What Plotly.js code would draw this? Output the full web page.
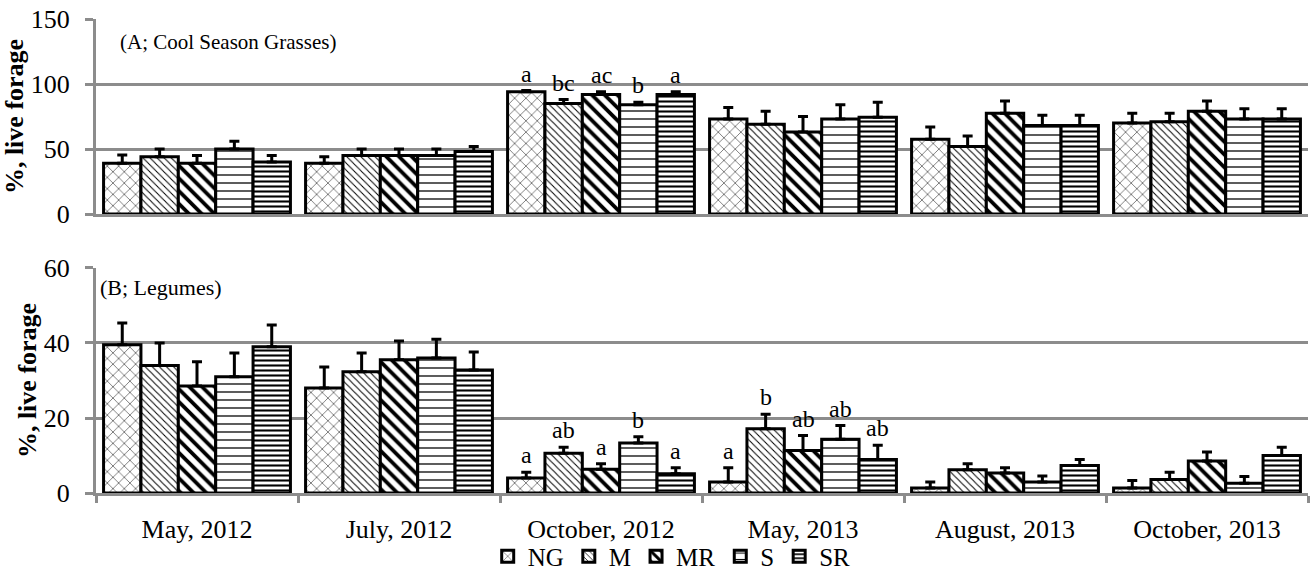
<!DOCTYPE html>
<html>
<head>
<meta charset="utf-8">
<script src="https://cdn.plot.ly/plotly-3.0.1.min.js"></script>
<style>html,body{margin:0;padding:0;background:#fff;overflow:hidden;}#chart{width:1312px;height:590px;}</style>
</head>
<body>
<div id="chart"></div>
<script>
const categories = ['May, 2012','July, 2012','October, 2012','May, 2013','August, 2013','October, 2013'];
const treatments = ['NG','M','MR','S','SR'];

// Panel A: cool season grasses (% of live forage), + SE
const grassNG  = [39, 39, 94, 73, 57.5, 70];
const grassM   = [44, 45, 85, 69, 52, 71];
const grassMR  = [39, 45, 92, 63, 77.5, 79];
const grassS   = [50, 45, 84, 73, 68, 73];
const grassSR  = [40, 48, 92, 74.5, 68, 73];
const grassErrNG = [6.4, 5, 1, 9, 9.5, 7.5];
const grassErrM  = [6, 5, 3, 10, 8, 6.5];
const grassErrMR = [6, 5, 2, 12, 9.5, 8];
const grassErrS  = [6, 5, 2, 11, 8, 8];
const grassErrSR = [5, 4, 2, 11.5, 8, 8];

// Panel B: legumes
const legNG  = [39.5, 28, 4.0, 2.9, 1.3, 1.3];
const legM   = [34, 32.3, 10.6, 17.1, 6.2, 3.6];
const legMR  = [28.5, 35.5, 6.3, 11.3, 5.3, 8.5];
const legS   = [31, 36, 13.3, 14.3, 2.9, 2.6];
const legSR  = [39, 32.8, 5.1, 8.9, 7.3, 10];
const legErrNG = [5.8, 5.6, 1.5, 3.8, 1.6, 2.0];
const legErrM  = [6, 5, 1.6, 3.9, 1.6, 1.9];
const legErrMR = [6.5, 5, 1.5, 4, 1.4, 2.4];
const legErrS  = [6.3, 5, 1.7, 3.7, 1.6, 1.8];
const legErrSR = [5.8, 4.8, 1.6, 3.8, 1.6, 2.2];

// Significance letters: [category index, letters per treatment]
const grassLetters = [[2, ['a','bc','ac','b','a']]];
const legLetters = [[2, ['a','ab','a','b','a']], [3, ['a','b','ab','ab','ab']]];

const panelLabelA = '(A; Cool Season Grasses)';
const panelLabelB = '(B; Legumes)';
const yTitle = '%, live forage';

const grassVals = [grassNG, grassM, grassMR, grassS, grassSR];
const grassErrs = [grassErrNG, grassErrM, grassErrMR, grassErrS, grassErrSR];
const legVals = [legNG, legM, legMR, legS, legSR];
const legErrs = [legErrNG, legErrM, legErrMR, legErrS, legErrSR];

const patterns = [
  {shape:'x', size:8, solidity:0.12},
  {shape:'\\', size:5, solidity:0.2},
  {shape:'\\', size:9, solidity:0.42},
  {shape:'-', size:8, solidity:0.16},
  {shape:'-', size:5, solidity:0.42}
];

const FONT = 'Liberation Serif, Times New Roman, serif';
const BARGAP = 0.075;
const traces = [];
function addPanel(vals, errs, xa, ya, showLeg) {
  treatments.forEach((t, i) => {
    traces.push({
      type:'bar', name:t, x:categories, y:vals[i], xaxis:xa, yaxis:ya,
      legendgroup:t, showlegend:showLeg,
      marker:{color:'#fff', line:{color:'#000', width:3},
        pattern:Object.assign({fgcolor:'#000', bgcolor:'#fff', fillmode:'replace'}, patterns[i])},
      error_y:{type:'data', symmetric:false, array:errs[i], arrayminus:errs[i].map(()=>0),
        color:'#000', thickness:3, width:5},
      hoverinfo:'none'
    });
  });
}
addPanel(grassVals, grassErrs, 'x', 'y', true);
addPanel(legVals, legErrs, 'x2', 'y2', false);

const annotations = [];
const bw = (1 - BARGAP) / treatments.length;
function addLetters(list, vals, errs, xr, yr) {
  list.forEach(([ci, letters]) => {
    letters.forEach((L, i) => {
      annotations.push({
        xref:xr, yref:yr, x: ci - (1 - BARGAP)/2 + (i + 0.5)*bw,
        y: vals[i][ci] + errs[i][ci], yanchor:'bottom', yshift:2,
        text:L, showarrow:false, font:{family:FONT, size:24, color:'#000'}
      });
    });
  });
}
addLetters(grassLetters, grassVals, grassErrs, 'x', 'y');
addLetters(legLetters, legVals, legErrs, 'x2', 'y2');
annotations.push({xref:'paper', yref:'paper', x:0.018, y:0.951, xanchor:'left', yanchor:'middle',
  text:panelLabelA, showarrow:false, font:{family:FONT, size:21, color:'#000'}});
annotations.push({xref:'paper', yref:'paper', x:0.002, y:0.433, xanchor:'left', yanchor:'middle',
  text:panelLabelB, showarrow:false, font:{family:FONT, size:22, color:'#000'}});

const gridGray = '#8c8c8c';
const yCommon = {
  showline:true, linecolor:gridGray, linewidth:3, showgrid:true, gridcolor:gridGray, gridwidth:3,
  zeroline:false, ticks:'outside', ticklen:8, tickcolor:gridGray, tickwidth:3, ticklabelstandoff:10,
  tickfont:{family:FONT, size:26, color:'#000'}, fixedrange:true, automargin:false,
  title:{text:yTitle, font:{family:FONT, size:26, color:'#000', weight:'bold'}, standoff:0}
};
const layout = {
  width:1312, height:590,
  margin:{l:96, r:4, t:19, b:97},
  paper_bgcolor:'#fff', plot_bgcolor:'#fff',
  barmode:'group', bargap:BARGAP, bargroupgap:0,
  font:{family:FONT, color:'#000'},
  xaxis:{anchor:'y', domain:[0,1], showticklabels:false, showline:true, linecolor:gridGray, linewidth:3,
    ticks:'', showgrid:false, fixedrange:true, type:'category', automargin:false},
  yaxis:Object.assign({}, yCommon, {anchor:'x', domain:[0.5886,1], range:[0,150], tickvals:[0,50,100,150]}),
  xaxis2:{anchor:'y2', domain:[0,1], showline:true, linecolor:gridGray, linewidth:3, showgrid:false,
    ticks:'outside', tickson:'boundaries', ticklen:7, tickcolor:gridGray, tickwidth:3, automargin:false,
    tickfont:{family:FONT, size:26, color:'#000'}, ticklabelstandoff:11, fixedrange:true, type:'category'},
  yaxis2:Object.assign({}, yCommon, {anchor:'x2', domain:[0,0.4747], range:[0,60], tickvals:[0,20,40,60]}),
  legend:{orientation:'h', x:0.475, xanchor:'center', y:-0.134, yanchor:'middle',
    font:{family:FONT, size:25, color:'#000'}, itemwidth:30, tracegroupgap:0, bgcolor:'rgba(0,0,0,0)'},
  annotations:annotations
};
Plotly.newPlot('chart', traces, layout, {displayModeBar:false, staticPlot:true});
</script>
</body>
</html>
